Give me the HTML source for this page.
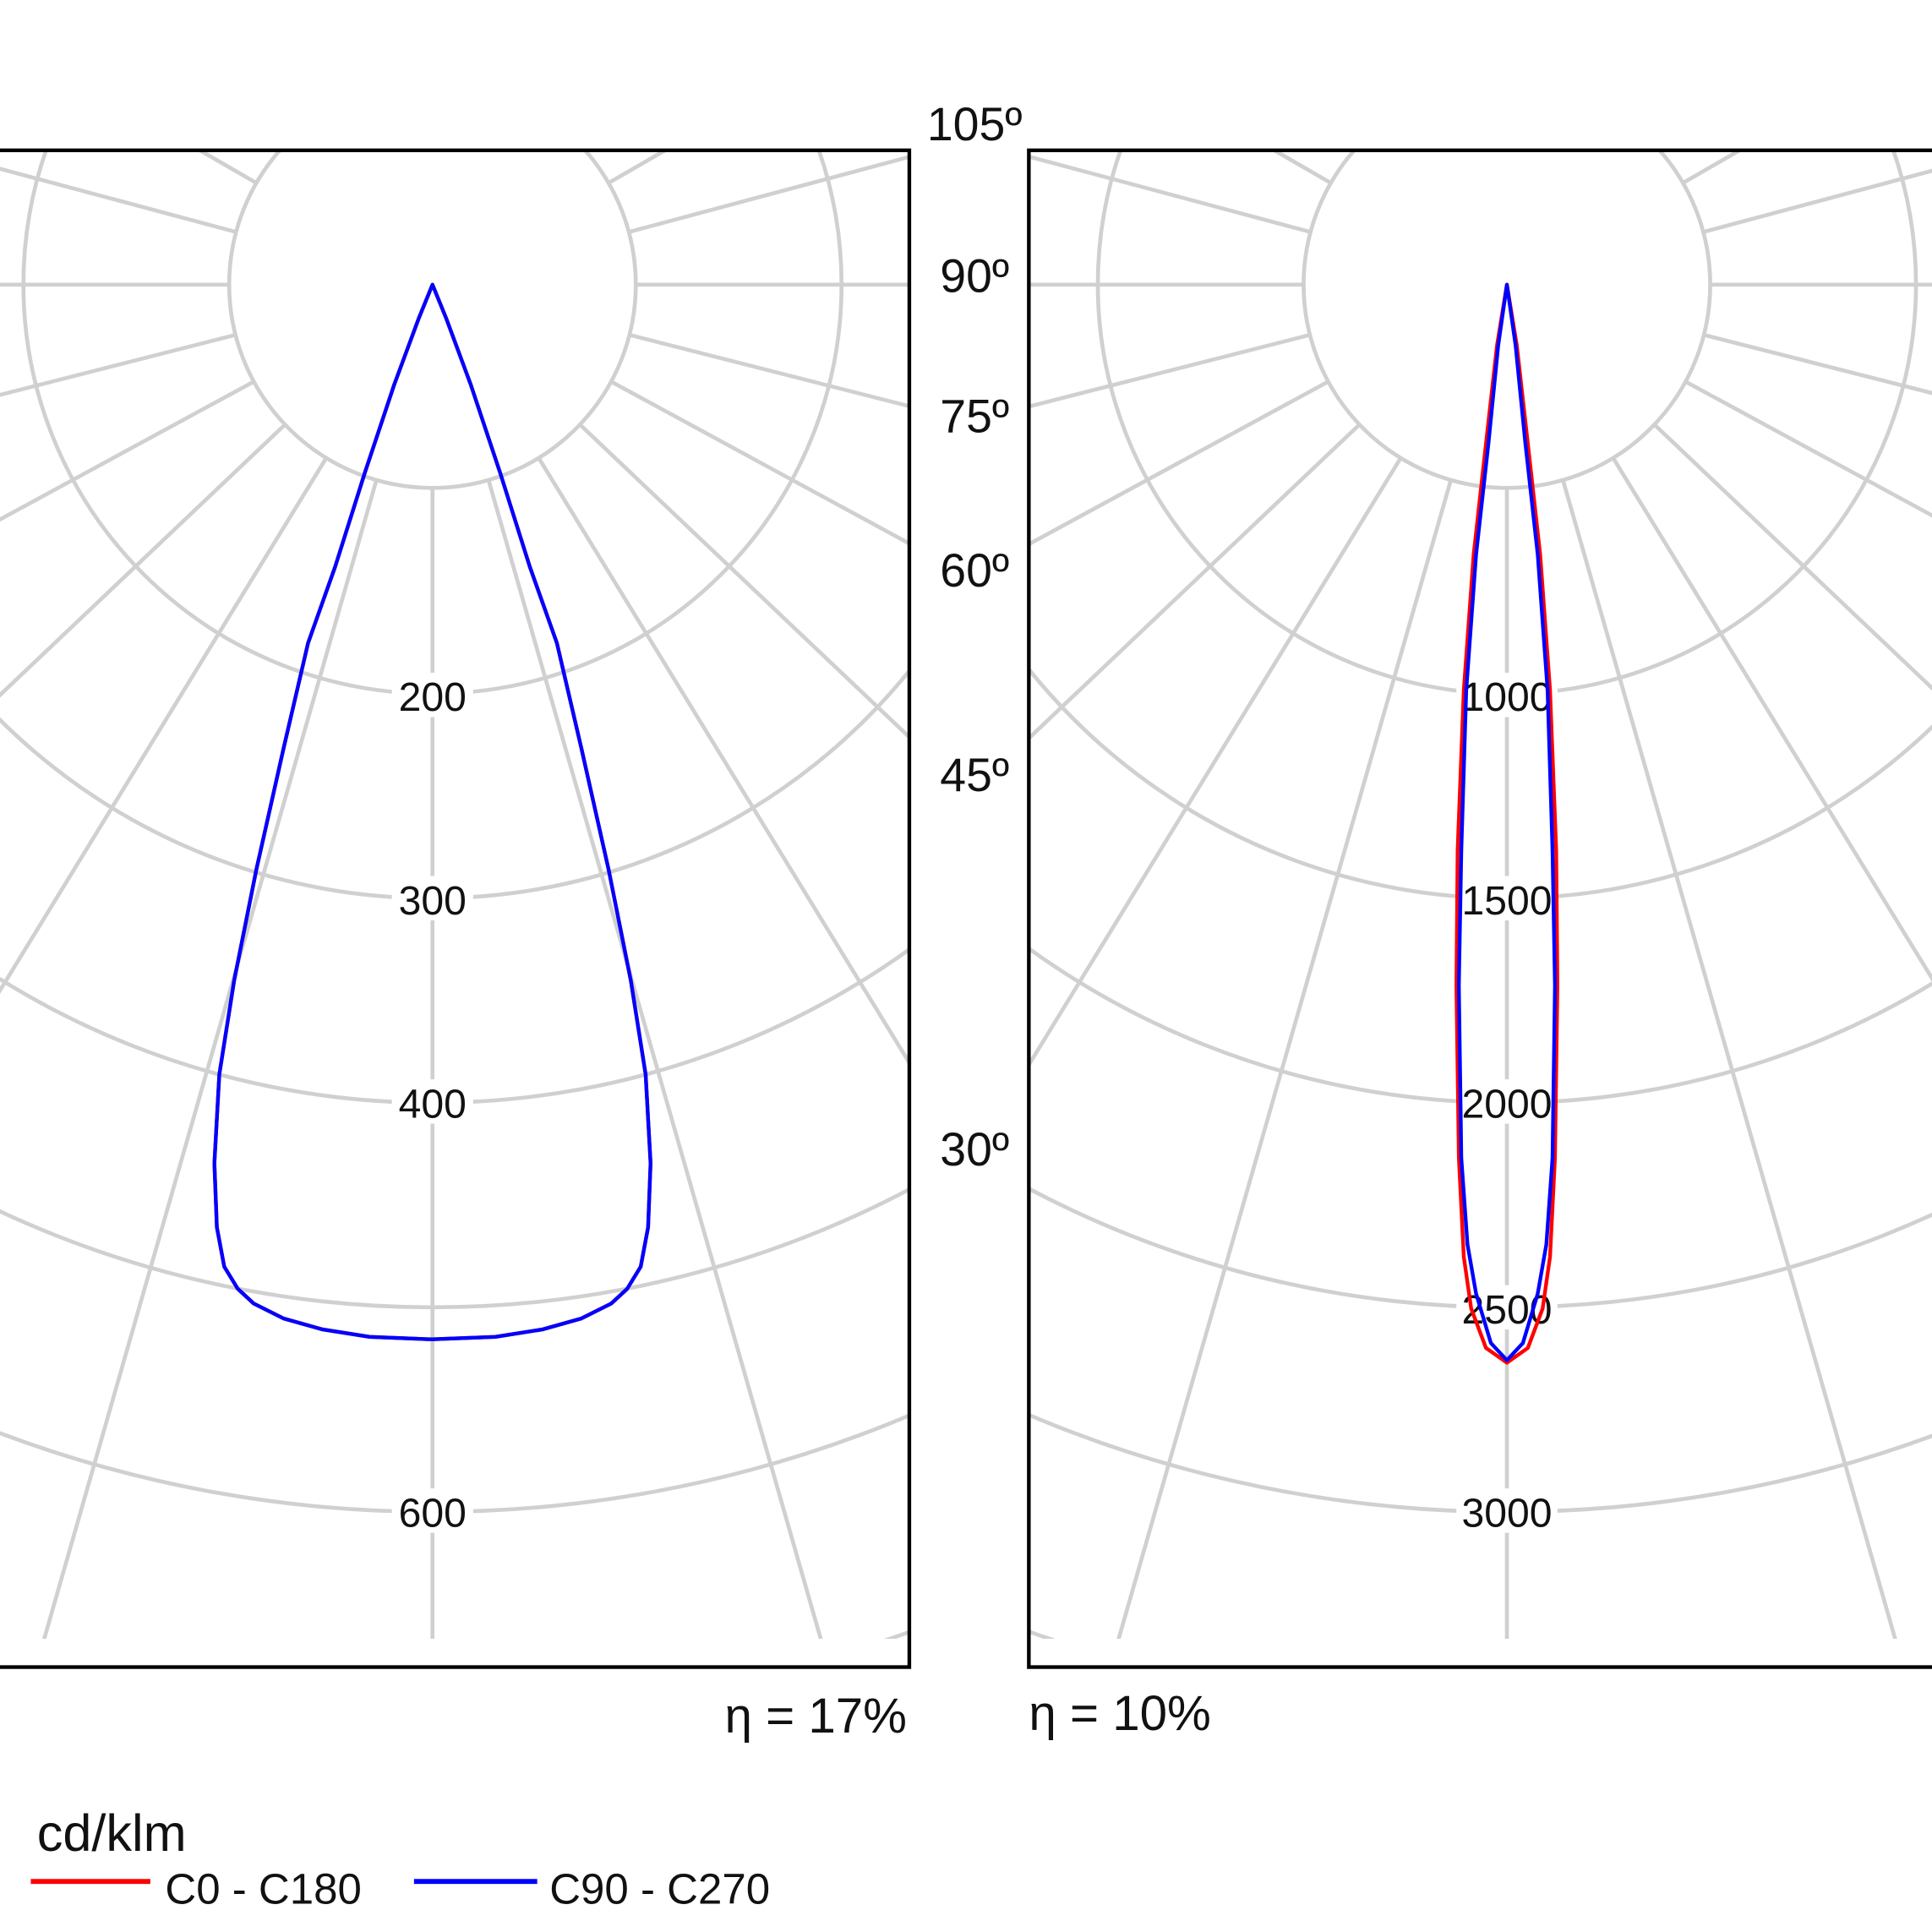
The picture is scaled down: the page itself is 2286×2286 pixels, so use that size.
<!DOCTYPE html>
<html><head><meta charset="utf-8"><style>html,body{margin:0;padding:0;background:#fff}svg{display:block}</style></head>
<body>
<svg width="2286" height="2286" viewBox="0 0 1568 1568" xmlns="http://www.w3.org/2000/svg" font-family="Liberation Sans, sans-serif">
<defs>
<g id="grid" stroke="#d0d0d0" stroke-width="3.2" fill="none">
<circle r="165"/><circle r="332"/><circle r="498"/><circle r="664"/><circle r="830"/><circle r="996"/><circle r="1160"/>
<path d="M0,165L0,1160 M45.5,158.6L319.7,1115.1 M-45.5,158.6L-319.7,1115.1 M86.2,140.7L606.1,989 M-86.2,140.7L-606.1,989 M119.7,113.6L841.5,798.5 M-119.7,113.6L-841.5,798.5 M145,78.7L1019.4,553.6 M-145,78.7L-1019.4,553.6 M159.9,40.8L1124,286.5 M-159.9,40.8L-1124,286.5 M165,0L1160,0 M-165,0L-1160,0 M159.4,-42.7L1120,-300 M-159.4,-42.7L-1120,-300 M142.9,-82.5L1005,-580 M-142.9,-82.5L-1005,-580 M116.7,-116.7L820,-820 M-116.7,-116.7L-820,-820 M82.5,-142.9L580,-1005 M-82.5,-142.9L-580,-1005 M42.7,-159.4L300,-1120 M-42.7,-159.4L-300,-1120 M0,-165L0,-1160"/>
</g>
<clipPath id="cl"><rect x="-10" y="122" width="748" height="1208"/></clipPath>
<clipPath id="cr"><rect x="835" y="122" width="800" height="1208"/></clipPath>
</defs>
<g clip-path="url(#cl)"><use href="#grid" transform="translate(351,231)"/></g>
<g clip-path="url(#cr)"><use href="#grid" transform="translate(1223,231)"/></g>
<rect x="-10" y="122" width="748" height="1231" fill="none" stroke="#000" stroke-width="3"/>
<rect x="835" y="122" width="800" height="1231" fill="none" stroke="#000" stroke-width="3"/>
<g font-size="33" text-anchor="middle" fill="#111">
<g fill="#fff"><rect x="318" y="546" width="66" height="36"/><rect x="318" y="711" width="66" height="36"/><rect x="318" y="876" width="66" height="36"/><rect x="318" y="1208" width="66" height="36"/>
<rect x="1182" y="546" width="82" height="36"/><rect x="1182" y="711" width="82" height="36"/><rect x="1182" y="876" width="82" height="36"/><rect x="1182" y="1043" width="82" height="36"/><rect x="1182" y="1208" width="82" height="36"/></g>
<text x="351" y="577">200</text><text x="351" y="742">300</text><text x="351" y="907">400</text><text x="351" y="1239">600</text>
<text x="1223" y="577">1000</text><text x="1223" y="742">1500</text><text x="1223" y="907">2000</text><text x="1223" y="1074">2500</text><text x="1223" y="1239">3000</text>
</g>
<g font-size="38" text-anchor="middle" fill="#111">
<text x="791" y="114">105º</text><text x="791" y="237">90º</text><text x="791" y="351">75º</text><text x="791" y="476">60º</text><text x="791" y="642">45º</text><text x="791" y="946">30º</text>
</g>
<text x="736" y="1406" font-size="40" text-anchor="end" fill="#111">η = 17%</text>
<text x="835" y="1404" font-size="40" fill="#111">η = 10%</text>
<g fill="none" stroke-width="3" stroke-linejoin="round">
<path stroke="#f00" d="M351,231L362,258L382,312L406,384L430,460L452,522L472,608L494,706L512,796L524,872L528,944L526,996L520,1028L509,1046L496,1058L472,1070L440,1079L402,1085L351,1087L300,1085L262,1079L230,1070L206,1058L193,1046L182,1028L176,996L174,944L178,872L190,796L208,706L230,608L250,522L272,460L296,384L320,312L340,258Z"/>
<path stroke="#00f" d="M351,231L362,258L382,312L406,384L430,460L452,522L472,608L494,706L512,796L524,872L528,944L526,996L520,1028L509,1046L496,1058L472,1070L440,1079L402,1085L351,1087L300,1085L262,1079L230,1070L206,1058L193,1046L182,1028L176,996L174,944L178,872L190,796L208,706L230,608L250,522L272,460L296,384L320,312L340,258Z"/>
<path stroke="#f00" d="M1223,231L1231,280L1240,360L1250,450L1258,560L1263,690L1264,800L1262,940L1258,1020L1252,1062L1240,1094L1223,1106L1206,1094L1194,1062L1188,1020L1184,940L1182,800L1183,690L1188,560L1196,450L1206,360L1215,280Z"/>
<path stroke="#00f" d="M1223,231L1230,280L1238,360L1248,450L1256,560L1260,690L1262,800L1260,940L1255,1010L1248,1050L1236,1090L1223,1104L1210,1090L1198,1050L1191,1010L1186,940L1184,800L1186,690L1190,560L1198,450L1208,360L1216,280Z"/>
</g>
<text x="30" y="1502" font-size="42" fill="#111">cd/klm</text>
<line x1="25" y1="1527" x2="122" y2="1527" stroke="#f00" stroke-width="4"/>
<text x="134" y="1545" font-size="35" fill="#111">C0 - C180</text>
<line x1="336" y1="1527" x2="436" y2="1527" stroke="#00f" stroke-width="4"/>
<text x="446" y="1545" font-size="35" fill="#111">C90 - C270</text>
</svg>
</body></html>
